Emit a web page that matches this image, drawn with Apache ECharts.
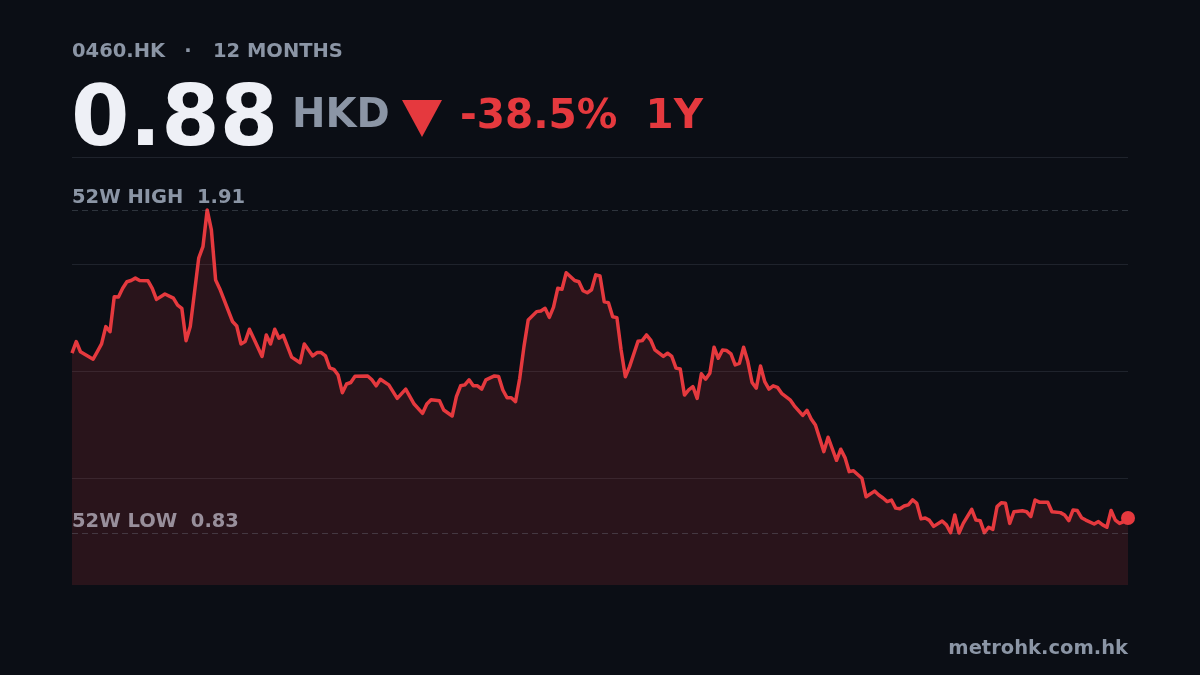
<!DOCTYPE html>
<html>
<head>
<meta charset="utf-8">
<script src="https://cdn.jsdelivr.net/npm/echarts@6/dist/echarts.min.js"></script>
<style>
html,body{margin:0;padding:0;background:#0b0e15;}
#chart{width:1200px;height:675px;}
</style>
</head>
<body>
<div id="chart"></div>
<script>
// ---- data (trading session index and close price, HKD) ----
const sessions = [0,1,2,5,6,7,8,9,10,11,12,13,14,15,16,18,19,20,22,24,25,26,27,28,30,31,32,33,34,35,38,39,40,41,42,43,45,46,47,48,49,50,52,54,55,57,58,59,60,61,62,63,64,65,66,67,70,71,72,73,75,77,79,81,83,84,85,87,88,90,91,92,93,94,95,96,97,98,100,101,102,103,104,105,106,107,108,110,111,112,113,114,115,116,117,119,120,121,122,123,124,125,126,127,128,129,130,131,132,134,135,136,137,138,139,140,141,142,143,144,145,146,147,148,149,150,151,152,153,154,155,156,157,158,159,160,161,162,163,164,165,166,167,168,170,171,173,174,175,176,178,179,181,182,183,184,185,187,188,190,191,192,193,194,195,196,197,198,199,200,201,202,203,204,206,207,208,209,210,211,213,214,215,216,217,218,219,220,221,222,223,225,226,227,228,229,231,232,234,235,236,237,238,239,240,242,243,244,245,246,247,248,249,250];
const prices = [1.431,1.470,1.436,1.411,1.436,1.462,1.520,1.503,1.620,1.619,1.648,1.670,1.674,1.682,1.674,1.673,1.648,1.611,1.629,1.615,1.592,1.581,1.473,1.520,1.749,1.787,1.910,1.843,1.676,1.646,1.537,1.522,1.462,1.470,1.511,1.481,1.420,1.492,1.462,1.511,1.481,1.491,1.418,1.399,1.462,1.422,1.433,1.433,1.422,1.382,1.377,1.358,1.299,1.328,1.333,1.354,1.355,1.342,1.322,1.344,1.325,1.280,1.311,1.261,1.230,1.261,1.275,1.272,1.241,1.221,1.286,1.322,1.325,1.342,1.322,1.322,1.311,1.342,1.355,1.353,1.308,1.282,1.282,1.269,1.347,1.453,1.542,1.570,1.572,1.581,1.551,1.585,1.648,1.645,1.700,1.674,1.670,1.640,1.633,1.643,1.693,1.689,1.603,1.600,1.553,1.550,1.442,1.352,1.386,1.471,1.473,1.492,1.475,1.442,1.431,1.420,1.431,1.420,1.381,1.378,1.291,1.308,1.319,1.280,1.362,1.344,1.364,1.451,1.414,1.442,1.440,1.429,1.392,1.397,1.451,1.403,1.333,1.314,1.388,1.336,1.311,1.322,1.317,1.297,1.275,1.255,1.223,1.240,1.211,1.191,1.102,1.150,1.073,1.110,1.082,1.035,1.038,1.013,0.951,0.970,0.957,0.947,0.935,0.940,0.913,0.911,0.920,0.924,0.941,0.929,0.877,0.880,0.872,0.852,0.870,0.857,0.831,0.890,0.830,0.862,0.909,0.873,0.871,0.831,0.849,0.842,0.918,0.931,0.929,0.862,0.901,0.904,0.901,0.885,0.940,0.933,0.933,0.901,0.898,0.890,0.871,0.907,0.905,0.881,0.873,0.860,0.868,0.857,0.849,0.905,0.873,0.862,0.868,0.880];

const tickerText = '0460.HK';
const periodText = '12 MONTHS';
const priceText = '0.88';
const currencyText = 'HKD';
const changeText = '-38.5%  1Y';
const sourceText = 'metrohk.com.hk';

const high = Math.max(...prices);
const low = Math.min(...prices);

const RED = '#e5393e';
const GRAY = '#8b95a5';
const FONT = '"DejaVu Sans", sans-serif';

const chart = echarts.init(document.getElementById('chart'), null, {renderer: 'canvas'});
const seriesData = sessions.map((s, i) => [s, prices[i]]);
const lastPoint = seriesData[seriesData.length - 1];

chart.setOption({
  backgroundColor: '#0b0e15',
  animation: false,
  grid: {left: 72, right: 72, top: 157, bottom: 90},
  xAxis: {
    type: 'value', min: 0, max: sessions[sessions.length - 1],
    show: false
  },
  yAxis: [
    {
      type: 'value', min: 0.656, max: 2.087, show: false,
      splitLine: {show: false}
    },
    {
      type: 'value', min: 0, max: 4, interval: 1, position: 'right',
      axisLabel: {show: false}, axisLine: {show: false}, axisTick: {show: false},
      splitLine: {show: true, showMinLine: false, lineStyle: {color: '#1f232c', width: 1}}
    }
  ],
  series: [
    {
      type: 'line',
      data: seriesData,
      yAxisIndex: 0,
      showSymbol: false,
      smooth: false,
      lineStyle: {color: RED, width: 3.5, join: 'round'},
      areaStyle: {color: 'rgba(229,57,62,0.2)', origin: 'start'},
      z: 3,
      markLine: {
        silent: true,
        symbol: ['none', 'none'],
        lineStyle: {type: [6, 4], color: 'rgba(140,150,165,0.28)', width: 1},
        label: {
          show: true, position: 'insideStartTop', distance: [0, 2],
          color: GRAY, fontWeight: 'bold', fontSize: 19.5, fontFamily: FONT
        },
        data: [
          {yAxis: high, label: {formatter: '52W HIGH  ' + high.toFixed(2)}},
          {yAxis: low, label: {formatter: '52W LOW  ' + low.toFixed(2), color: '#988f9b', distance: [0, 1]}}
        ]
      }
    },
    {
      type: 'scatter',
      data: [lastPoint],
      yAxisIndex: 0,
      symbol: 'circle',
      symbolSize: 14,
      itemStyle: {color: RED, opacity: 1},
      z: 5
    }
  ],
  graphic: [
    {type: 'text', x: 72, y: 52, style: {text: tickerText, fill: GRAY, font: 'bold 19.5px ' + FONT, align: 'left', verticalAlign: 'middle'}},
    {type: 'text', x: 188, y: 52, style: {text: '·', fill: GRAY, font: 'bold 19.5px ' + FONT, align: 'center', verticalAlign: 'middle'}},
    {type: 'text', x: 213, y: 52, style: {text: periodText, fill: GRAY, font: 'bold 19.5px ' + FONT, align: 'left', verticalAlign: 'middle'}},
    {type: 'text', x: 71, y: 123, style: {text: priceText, fill: '#eef0f6', font: 'bold 84px ' + FONT, align: 'left', verticalAlign: 'middle'}},
    {type: 'text', x: 292, y: 117, style: {text: currencyText, fill: GRAY, font: 'bold 40px ' + FONT, align: 'left', verticalAlign: 'middle'}},
    {type: 'polygon', shape: {points: [[402, 100], [442, 100], [422, 137]]}, style: {fill: RED}},
    {type: 'text', x: 460, y: 117, style: {text: changeText, fill: RED, font: 'bold 40.5px ' + FONT, align: 'left', verticalAlign: 'middle'}},
    {type: 'text', x: 1128, y: 649, style: {text: sourceText, fill: GRAY, font: 'bold 19.5px ' + FONT, align: 'right', verticalAlign: 'middle'}}
  ]
});
</script>
</body>
</html>
